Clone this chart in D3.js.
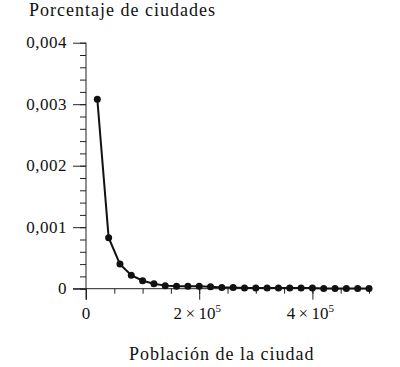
<!DOCTYPE html>
<html>
<head>
<meta charset="utf-8">
<script src="https://cdn.jsdelivr.net/npm/d3@7"></script>
<style>
  body { margin: 0; background: #fff; }
</style>
</head>
<body>
<div id="chart"></div>
<script>
// ---- data ----
var poblacion = [20000, 40000, 60000, 80000, 100000, 120000, 140000, 160000, 180000, 200000,
                 220000, 240000, 260000, 280000, 300000, 320000, 340000, 360000, 380000, 400000,
                 420000, 440000, 460000, 480000, 500000];
var porcentaje = [0.00308, 0.00083, 0.00040, 0.00022, 0.00013, 0.00008, 0.00005, 0.00004, 0.00004, 0.00004,
                  0.00003, 0.00002, 0.00002, 0.00001, 0.00001, 0.00001, 0.00001, 0.00001, 0.00001, 0.00001,
                  0.000005, 0.000005, 0.000005, 0.000005, 0.000005];
var yTicks = [0, 0.001, 0.002, 0.003, 0.004];
var yTickLabels = ["0", "0,001", "0,002", "0,003", "0,004"];
var xTicks = [0, 200000, 400000];
var xTickLabels = [["0", null], ["2\u2009×\u200910", "5"], ["4\u2009×\u200910", "5"]];

var serif = "'Liberation Serif', 'Times New Roman', serif";

// ---- set up area ----
var svgWidth = 400, svgHeight = 367;
var margin = { top: 42.7, right: 31, bottom: 78.3, left: 86 };
var chartWidth = svgWidth - margin.left - margin.right;
var chartHeight = svgHeight - margin.top - margin.bottom;

var svg = d3.select("#chart").append("svg")
  .attr("width", svgWidth)
  .attr("height", svgHeight)
  .attr("font-family", serif);

var chartGroup = svg.append("g")
  .attr("transform", `translate(${margin.left}, ${margin.top})`);

var xScale = d3.scaleLinear().domain([0, 500000]).range([0, chartWidth]);
var yScale = d3.scaleLinear().domain([0, 0.004]).range([chartHeight, 0]);

// ---- axes ----
var yAxisMinor = d3.axisLeft(yScale)
  .tickValues(d3.range(0, 0.00401, 0.0002))
  .tickSize(6).tickFormat("");
var yAxisMajor = d3.axisLeft(yScale)
  .tickValues(yTicks).tickSize(13).tickFormat("");
var xAxisMinor = d3.axisBottom(xScale)
  .tickValues(d3.range(0, 500001, 50000))
  .tickSize(5).tickFormat("");
var xAxisMajor = d3.axisBottom(xScale)
  .tickValues(xTicks).tickSize(11).tickFormat("");

[yAxisMinor, yAxisMajor].forEach(function (ax) {
  chartGroup.append("g").attr("class", "axis").call(ax);
});
[xAxisMinor, xAxisMajor].forEach(function (ax) {
  chartGroup.append("g").attr("class", "axis")
    .attr("transform", `translate(0, ${chartHeight})`).call(ax);
});
chartGroup.selectAll(".axis .domain").remove();
chartGroup.selectAll(".axis line").attr("stroke", "#222").attr("stroke-width", 1);

// axis lines
chartGroup.append("line")
  .attr("x1", 0).attr("x2", 0)
  .attr("y1", yScale(0.004)).attr("y2", yScale(0) + 11)
  .attr("stroke", "#222");
chartGroup.append("line")
  .attr("x1", -13).attr("x2", xScale(500000))
  .attr("y1", yScale(0)).attr("y2", yScale(0))
  .attr("stroke", "#222");

// y tick labels
chartGroup.selectAll(".ylab")
  .data(yTicks).enter().append("text")
  .attr("class", "ylab")
  .attr("x", -19)
  .attr("y", d => yScale(d) + 5.5)
  .attr("text-anchor", "end")
  .attr("font-family", serif)
  .attr("font-size", "17px")
  .attr("letter-spacing", "0.5px")
  .attr("fill", "#111")
  .text((d, i) => yTickLabels[i]);

// x tick labels
var xl = chartGroup.selectAll(".xlab")
  .data(xTicks).enter().append("text")
  .attr("class", "xlab")
  .attr("x", d => xScale(d) + (d === 0 ? 0 : -2))
  .attr("y", chartHeight + 30.5)
  .attr("text-anchor", "middle")
  .attr("font-family", serif)
  .attr("font-size", "17px")
  .attr("fill", "#111");
xl.append("tspan").text(d => xTickLabels[xTicks.indexOf(d)][0]);
xl.filter(d => xTickLabels[xTicks.indexOf(d)][1] !== null)
  .append("tspan")
  .attr("dy", -7).attr("font-size", "11px")
  .text(d => xTickLabels[xTicks.indexOf(d)][1]);

// titles
svg.append("text")
  .attr("x", 29).attr("y", 16)
  .attr("font-family", serif)
  .attr("font-size", "18px")
  .attr("letter-spacing", "1px")
  .attr("fill", "#111")
  .text("Porcentaje de ciudades");
svg.append("text")
  .attr("x", 129).attr("y", 360)
  .attr("font-family", serif)
  .attr("font-size", "18px")
  .attr("letter-spacing", "1px")
  .attr("fill", "#111")
  .text("Población de la ciudad");

// ---- line and dots ----
var pts = poblacion.map((p, i) => ({ x: p, y: porcentaje[i] }));
var line = d3.line().x(d => xScale(d.x)).y(d => yScale(d.y));
chartGroup.append("path")
  .datum(pts)
  .attr("fill", "none")
  .attr("stroke", "#111")
  .attr("stroke-width", 2)
  .attr("d", line);
chartGroup.selectAll("circle")
  .data(pts).enter().append("circle")
  .attr("r", 3.5)
  .attr("cx", d => xScale(d.x))
  .attr("cy", d => yScale(d.y))
  .attr("fill", "#111");
</script>
</body>
</html>
